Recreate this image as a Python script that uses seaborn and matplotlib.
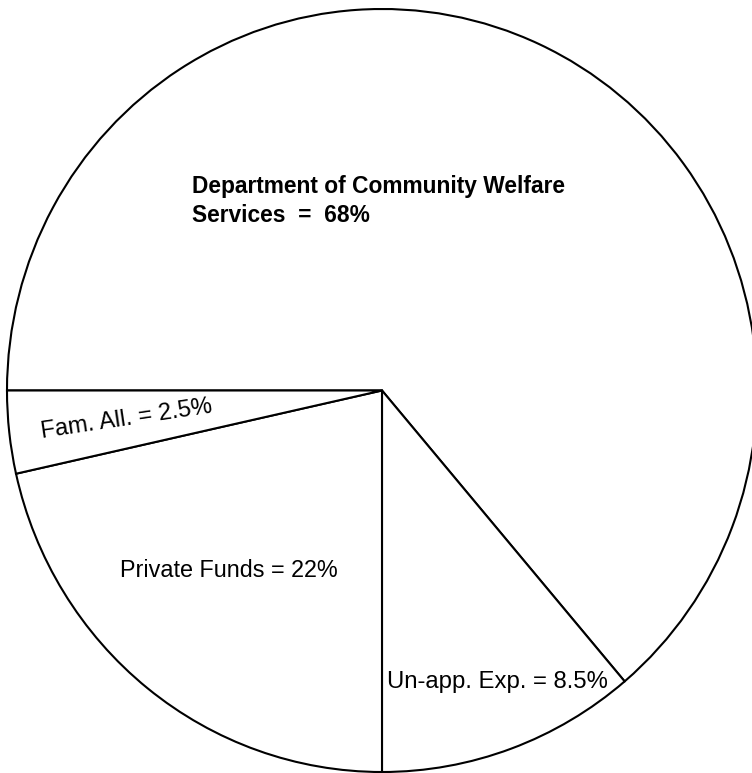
import matplotlib
matplotlib.use("Agg")
import matplotlib.pyplot as plt
import seaborn as sns

# Budget sources (labels as printed, shares as the wedges are drawn)
labels = ["Department of Community Welfare\nServices  =  68%",
          "Un-app. Exp. = 8.5%",
          "Private Funds = 22%",
          "Fam. All. = 2.5%"]
shares = [63.8, 11.2, 21.5, 3.5]

sns.set_theme(style="white")
plt.rcParams["font.family"] = ["Liberation Sans", "DejaVu Sans"]

W, H = 752, 773
fig = plt.figure(figsize=(W / 100, H / 100), dpi=100)
fig.patch.set_facecolor("white")
ax = fig.add_axes([0, 0, 1, 1])

# centre and radii of the (slightly oval) scanned circle, in pixels
cx, cy, rx, ry = 382, 390.5, 375, 381.5

ax.pie(shares, startangle=180, counterclock=False, radius=1,
       wedgeprops=dict(facecolor="white", edgecolor="black", linewidth=1.5))
ax.set_aspect("auto")
ax.set_xlim(-cx / rx, (W - cx) / rx)
ax.set_ylim(-(H - cy) / ry, cy / ry)
ax.axis("off")


def put(px, py, s, **kw):
    fig.text(px / W, 1 - py / H, s, va="baseline", ha="left", color="black", **kw)


dept = labels[0].split("\n")
put(192, 193, dept[0], fontsize=16.4, fontweight="bold")
put(192, 222, dept[1], fontsize=16.4, fontweight="bold")
put(387, 688, labels[1], fontsize=17.2)
put(120, 577, labels[2], fontsize=16.8)
put(42, 438, labels[3], fontsize=17, rotation=8.5, rotation_mode="anchor")

fig.savefig("out.png", dpi=100, facecolor="white")
